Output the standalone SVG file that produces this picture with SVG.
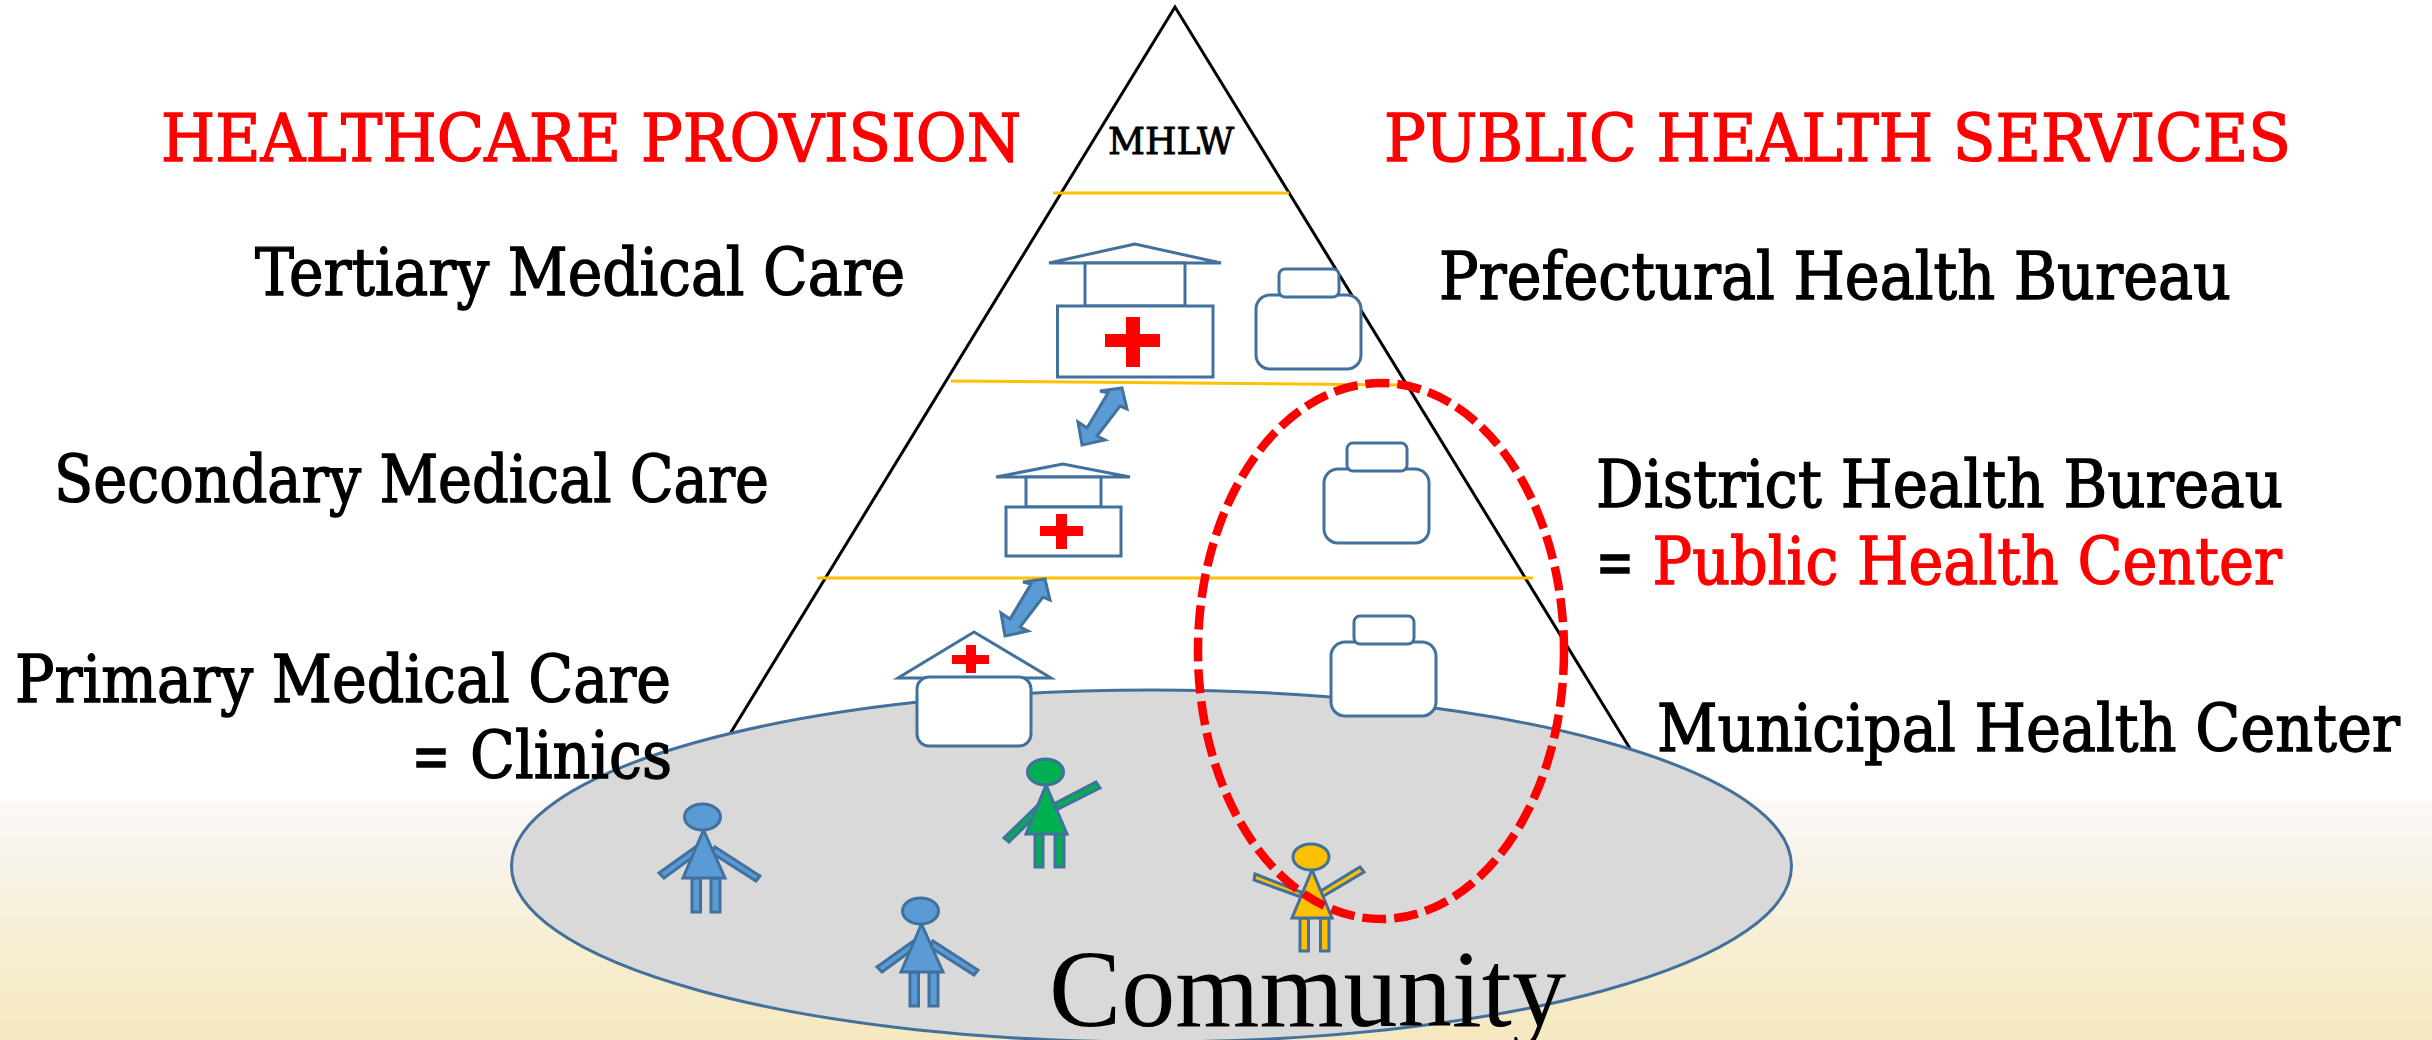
<svg xmlns="http://www.w3.org/2000/svg" xmlns:xlink="http://www.w3.org/1999/xlink" width="2432" height="1040" viewBox="0 0 2432 1040">
<style>
text{font-family:"DejaVu Serif Condensed","DejaVu Serif","Liberation Serif",serif;font-size:66px;fill:#000;stroke:#000;stroke-width:1.3px}
.red,.red tspan{fill:#f00;stroke:#f00}
.o{fill:#fff;stroke:#41719c;stroke-width:3;stroke-linejoin:miter}
.cross{fill:#f00}
.lvl{stroke:#ffc000;stroke-width:3;fill:none}
.p{stroke:#41719c;stroke-width:3}
.dbl{fill:#5b9bd5;stroke:#41719c;stroke-width:3}
</style>
<defs>
<linearGradient id="bg" x1="0" y1="0" x2="0" y2="1">
<stop offset="0" stop-color="#fdfaf7"/>
<stop offset=".25" stop-color="#f8f3ea"/>
<stop offset=".6" stop-color="#f7efd2"/>
<stop offset="1" stop-color="#f6e8bf"/>
</linearGradient>
<g id="bag">
<rect class="o" x="0" y="26" width="105" height="74" rx="14"/>
<rect class="o" x="23" y="0" width="60" height="28" rx="6"/>
</g>
<g id="person">
<polygon points="699.5,844 705,848 664,878 659,873"/>
<polygon points="715,847 760,876 756,881 712,853"/>
<rect x="692" y="878" width="8.5" height="34"/>
<rect x="711" y="878" width="9" height="34"/>
<polygon points="703.5,830 683,878 725,878"/>
<ellipse cx="702.5" cy="817" rx="18" ry="13"/>
</g>
<polygon id="dblarrow" points="1045,579 1050,600 1043,597 1020,627 1028,631 1005,636 1001,613 1010,619 1031,584 1023,582"/>
</defs>

<rect x="0" y="800" width="2432" height="240" fill="url(#bg)"/>

<g id="pyramid">
<polygon points="1175,7 714,760 1637,760" fill="none" stroke="#000" stroke-width="3"/>
<line class="lvl" x1="1053" y1="193" x2="1289" y2="193"/>
<line class="lvl" x1="951" y1="381" x2="1406" y2="385"/>
<line class="lvl" x1="817" y1="578" x2="1533" y2="578"/>
</g>

<g id="community">
<ellipse cx="1151.5" cy="866" rx="640" ry="176" fill="#d9d9d9" stroke="#41719c" stroke-width="3"/>
</g>

<g id="hospital-tertiary">
<polygon class="o" points="1135,244 1049,263 1221,263"/>
<rect class="o" x="1085" y="263" width="100" height="43"/>
<rect class="o" x="1057.5" y="306" width="155.5" height="71"/>
<path class="cross" d="M1126 317h14v17h20v13h-20v20h-14v-20h-21v-13h21z"/>
</g>
<g id="hospital-secondary">
<polygon class="o" points="1063,464 996,477 1130,477"/>
<rect class="o" x="1026" y="477" width="75" height="30"/>
<rect class="o" x="1006" y="507" width="115" height="49"/>
<path class="cross" d="M1056 514h11v12h16v10h-16v13h-11v-13h-16v-10h16z"/>
</g>
<g id="clinic">
<polygon class="o" points="974,632 898,678 1051,678"/>
<rect class="o" x="917" y="677" width="114" height="69" rx="12"/>
<path class="cross" d="M966 645h10v10h13v9h-13v9h-10v-9h-14v-9h14z"/>
</g>

<g id="connectors">
<use xlink:href="#dblarrow" href="#dblarrow" class="dbl" transform="translate(77,-191)"/>
<use xlink:href="#dblarrow" href="#dblarrow" class="dbl"/>
</g>

<g id="bureau-prefectural"><use xlink:href="#bag" href="#bag" transform="translate(1256,269)"/></g>
<g id="bureau-district"><use xlink:href="#bag" href="#bag" transform="translate(1324,443)"/></g>
<g id="bureau-municipal"><use xlink:href="#bag" href="#bag" transform="translate(1331,616)"/></g>

<g id="person-1" class="p"><use xlink:href="#person" href="#person" fill="#5b9bd5"/></g>
<g id="person-2" class="p"><use xlink:href="#person" href="#person" fill="#5b9bd5" transform="translate(218,94)"/></g>
<g id="person-green" class="p" fill="#00b050">
<polygon points="1040,803 1045,807 1009,842 1004,838"/>
<polygon points="1096,782 1100,788 1054,811 1050,806"/>
<rect x="1035" y="834" width="8" height="33"/>
<rect x="1055" y="834" width="9" height="33"/>
<polygon points="1046,785 1026,834 1067,834"/>
<ellipse cx="1045.5" cy="772" rx="18" ry="13"/>
</g>
<g id="person-yellow" class="p" fill="#ffc000">
<polygon points="1255,874 1301,892 1301,897 1254,880"/>
<polygon points="1360,867 1364,872 1322,897 1319,892"/>
<rect x="1300" y="918" width="8.5" height="33"/>
<rect x="1320.5" y="918" width="8.5" height="33"/>
<polygon points="1312,870 1292,918 1332,918"/>
<ellipse cx="1311" cy="857" rx="18" ry="13"/>
</g>

<g id="public-health-center-ring">
<ellipse cx="1381" cy="651" rx="183" ry="268" fill="none" stroke="#f00" stroke-width="8.5" stroke-dasharray="24 8"/>
</g>

<g id="labels">
<text class="red" x="161" y="161" textLength="860" lengthAdjust="spacingAndGlyphs">HEALTHCARE PROVISION</text>
<text class="red" x="1384" y="161" textLength="907" lengthAdjust="spacingAndGlyphs">PUBLIC HEALTH SERVICES</text>
<text x="1108" y="154" textLength="126" lengthAdjust="spacingAndGlyphs" style="font-size:37px;stroke-width:.8px">MHLW</text>
<text x="255" y="295" textLength="650" lengthAdjust="spacingAndGlyphs">Tertiary Medical Care</text>
<text x="54" y="502" textLength="715" lengthAdjust="spacingAndGlyphs">Secondary Medical Care</text>
<text x="15" y="702" textLength="656" lengthAdjust="spacingAndGlyphs">Primary Medical Care</text>
<text x="412" y="778" textLength="38" lengthAdjust="spacingAndGlyphs">=</text>
<text x="470" y="778" textLength="202" lengthAdjust="spacingAndGlyphs">Clinics</text>
<text x="1439" y="299" textLength="792" lengthAdjust="spacingAndGlyphs">Prefectural Health Bureau</text>
<text x="1596" y="507" textLength="687" lengthAdjust="spacingAndGlyphs">District Health Bureau</text>
<text x="1596" y="584" textLength="38" lengthAdjust="spacingAndGlyphs">=</text>
<text class="red" x="1652.5" y="584" textLength="629.5" lengthAdjust="spacingAndGlyphs">Public Health Center</text>
<text x="1657" y="751" textLength="743" lengthAdjust="spacingAndGlyphs">Municipal Health Center</text>
<text x="1049" y="1026" textLength="517" lengthAdjust="spacingAndGlyphs" style="font-family:'Liberation Serif',serif;font-size:110px;stroke-width:0">Community</text>
</g>
</svg>
